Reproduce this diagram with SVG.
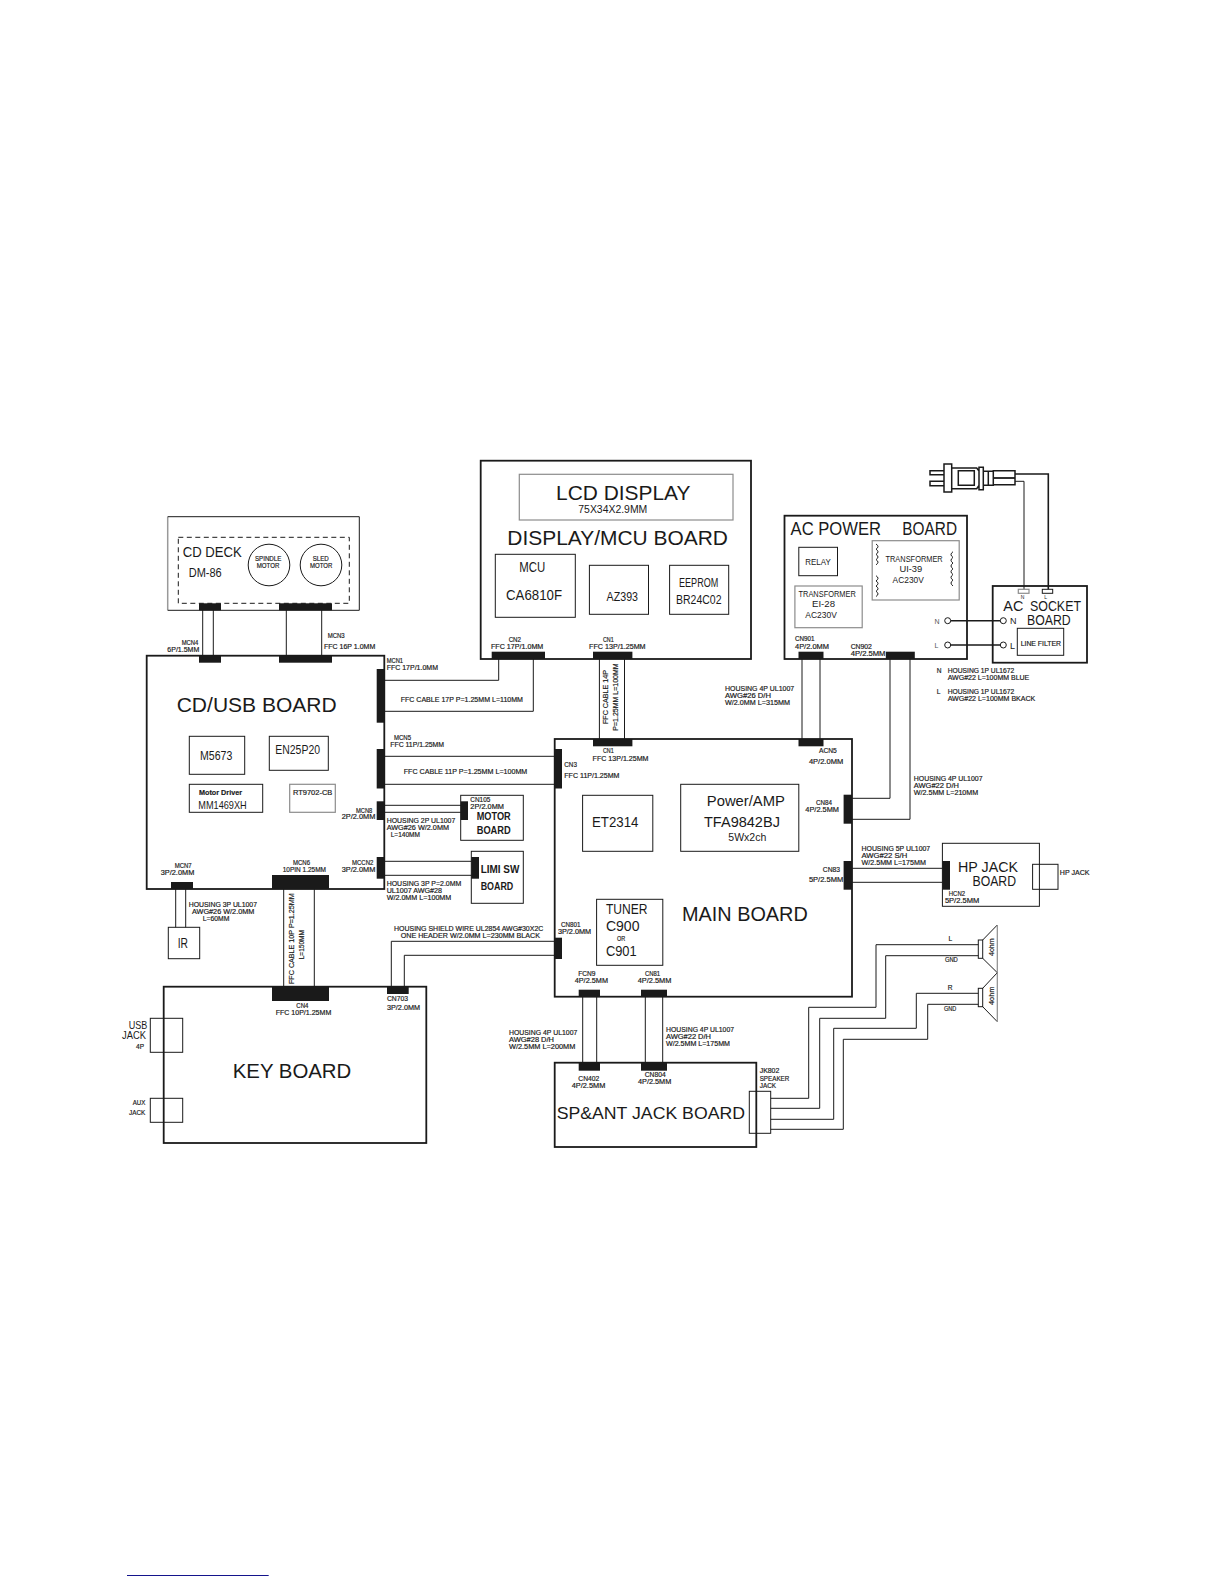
<svg xmlns="http://www.w3.org/2000/svg" width="1224" height="1584" viewBox="0 0 1224 1584">
<style>
text{font-family:"Liberation Sans",Arial,sans-serif;fill:#1a1a1a}
.s{font-size:6.6px;stroke:#1a1a1a;stroke-width:.18}
.m{font-size:9px}
.t{font-size:12px}
.h{font-size:14.5px}
.b{font-size:21px}
.bd{font-weight:bold}
.board,.box,.gbox,.wire{fill:none}
.board{stroke:#1a1a1a;stroke-width:1.8}
.box{stroke:#1a1a1a;stroke-width:1}
.gbox{stroke:#8c8c8c;stroke-width:1.2}
.wire{stroke:#1a1a1a;stroke-width:1}
.wire2{fill:none;stroke:#1a1a1a;stroke-width:1.6}
.c{fill:#1a1a1a;stroke:none}
</style>
<rect width="1224" height="1584" fill="#fff"/>
<g id="connectors">
<path class="wire" d="M202.7 610V656M213.3 610V656M286.3 610V656M321.7 610V656"/>
<path class="wire" d="M384 680.3H498.7V652M384 711.3H533.3V652"/>
<path class="wire" d="M599.4 659V739M624.5 659V739"/>
<path class="wire" d="M802 659V739M820 659V739"/>
<path class="wire" d="M890 659V798.3H852M910 659V819.3H852"/>
<path class="wire" d="M384 756.3H555M384 784.3H555"/>
<path class="wire" d="M384 805.3H461M384 812.3H461"/>
<path class="wire" d="M384 861.3H471.5M384 875.3H471.5"/>
<path class="wire" d="M175.7 889V927.3M185.7 889V927.3"/>
<path class="wire" d="M283.7 889V987M314.3 889V987"/>
<path class="wire" d="M554.7 941.3H391.3V987M554.7 955.3H404.3V987"/>
<path class="wire" d="M852 868.3H942.4M852 882.3H942.4"/>
<path class="wire" d="M582.7 997V1062.7M596.7 997V1062.7M645.3 997V1062.7M662.7 997V1062.7"/>
<path class="wire" d="M770.7 1098.3H808.7V1007.3H876V944.7H978.3M770.7 1108.3H819.7V1018.3H885.7V955.7H978.3M770.7 1119.3H833.7V1028.3H916.3V993.3H978.3M770.7 1129.3H843.3V1039.3H927.7V1004.3H978.3"/>
<path class="wire" d="M1015 481.3H1024V589.3"/>
<path class="wire2" d="M1015 474H1048.3V589.3"/>
<path class="wire2" d="M950.7 620.7H1000.3M950.7 645H1000.3"/>
</g>
<g id="cd-deck">
<path d="M167.7 610.3V516.7" fill="none" stroke="#999" stroke-width="1.5"/>
<path class="box" stroke-width="1.2" d="M167.7 516.7H359.3V610.3H167.7"/>
<rect class="box" x="178.3" y="537.3" width="171" height="66" stroke-dasharray="5 3.5"/>
<circle class="box" cx="269" cy="565" r="20.8"/>
<circle class="box" cx="321" cy="565" r="20.8"/>
<rect class="c" x="199" y="603.3" width="22" height="7"/>
<rect class="c" x="279" y="603.3" width="53" height="7"/>
<text class="h" lengthAdjust="spacingAndGlyphs" x="182.7" y="557.3" textLength="59">CD DECK</text>
<text class="t" lengthAdjust="spacingAndGlyphs" x="188.7" y="576.7" textLength="33">DM-86</text>
<text class="s" lengthAdjust="spacingAndGlyphs" x="255" y="561" textLength="26.3">SPINDLE</text>
<text class="s" lengthAdjust="spacingAndGlyphs" x="256.7" y="568" textLength="22.6">MOTOR</text>
<text class="s" lengthAdjust="spacingAndGlyphs" x="312.7" y="561" textLength="16">SLED</text>
<text class="s" lengthAdjust="spacingAndGlyphs" x="310" y="568" textLength="22.3">MOTOR</text>
</g>
<g id="cd-usb-board">
<rect class="board" x="146.7" y="655.7" width="237.6" height="233.3"/>
<rect class="c" x="199" y="655.7" width="22" height="7"/>
<rect class="c" x="279" y="655.7" width="53" height="7"/>
<rect class="c" x="376.7" y="669" width="8" height="53.7"/>
<rect class="c" x="376.7" y="749" width="8" height="39.5"/>
<rect class="c" x="376.7" y="801.3" width="8" height="18.7"/>
<rect class="c" x="376.7" y="857" width="8" height="21.7"/>
<rect class="c" x="171" y="882" width="22" height="7"/>
<rect class="c" x="272" y="875" width="57" height="14"/>
<rect class="box" x="189.3" y="736.3" width="55.4" height="38"/>
<rect class="box" x="269.3" y="736.3" width="59" height="34"/>
<rect class="box" x="189.3" y="784.3" width="73.4" height="28"/>
<rect class="gbox" x="289.7" y="784.3" width="45.6" height="28"/>
<text class="b" lengthAdjust="spacingAndGlyphs" x="176.7" y="712.3" textLength="160">CD/USB BOARD</text>
<text class="t" lengthAdjust="spacingAndGlyphs" x="200" y="760" textLength="32.3">M5673</text>
<text class="t" lengthAdjust="spacingAndGlyphs" x="275.3" y="753.7" textLength="44.7">EN25P20</text>
<text class="s bd" lengthAdjust="spacingAndGlyphs" x="199" y="795" textLength="43" style="font-size:7.5px">Motor Driver</text>
<text class="t" lengthAdjust="spacingAndGlyphs" x="198.3" y="809" textLength="48.4" style="font-size:11px">MM1469XH</text>
<text class="s" lengthAdjust="spacingAndGlyphs" x="293" y="795" textLength="39.3">RT9702-CB</text>
</g>
<g id="connector-labels-left">
<text class="s" lengthAdjust="spacingAndGlyphs" x="181.7" y="645.3" textLength="16.6">MCN4</text>
<text class="s" lengthAdjust="spacingAndGlyphs" x="167.3" y="652.3" textLength="32">6P/1.5MM</text>
<text class="s" lengthAdjust="spacingAndGlyphs" x="327.7" y="638.3" textLength="17">MCN3</text>
<text class="s" lengthAdjust="spacingAndGlyphs" x="324" y="649" textLength="51.3">FFC 16P 1.0MM</text>
<text class="s" lengthAdjust="spacingAndGlyphs" x="386.7" y="663" textLength="16.3">MCN1</text>
<text class="s" lengthAdjust="spacingAndGlyphs" x="386.7" y="670" textLength="51.3">FFC 17P/1.0MM</text>
<text class="s" lengthAdjust="spacingAndGlyphs" x="400.7" y="701.7" textLength="122.3">FFC CABLE 17P P=1.25MM L=110MM</text>
<text class="s" lengthAdjust="spacingAndGlyphs" x="394" y="739.7" textLength="17">MCN5</text>
<text class="s" lengthAdjust="spacingAndGlyphs" x="390.3" y="746.7" textLength="53.7">FFC 11P/1.25MM</text>
<text class="s" lengthAdjust="spacingAndGlyphs" x="403.7" y="774" textLength="123.6">FFC CABLE 11P P=1.25MM L=100MM</text>
<text class="s" lengthAdjust="spacingAndGlyphs" x="356" y="812.7" textLength="16.3">MCN8</text>
<text class="s" lengthAdjust="spacingAndGlyphs" x="341.7" y="819.3" textLength="33.6">2P/2.0MM</text>
<text class="s" lengthAdjust="spacingAndGlyphs" x="386.7" y="822.7" textLength="68.6">HOUSING 2P UL1007</text>
<text class="s" lengthAdjust="spacingAndGlyphs" x="386.7" y="829.7" textLength="62.3">AWG#26 W/2.0MM</text>
<text class="s" lengthAdjust="spacingAndGlyphs" x="390.7" y="836.7" textLength="29.3">L=140MM</text>
<text class="s" lengthAdjust="spacingAndGlyphs" x="352" y="865" textLength="21.3">MCCN2</text>
<text class="s" lengthAdjust="spacingAndGlyphs" x="341.7" y="872" textLength="33.6">3P/2.0MM</text>
<text class="s" lengthAdjust="spacingAndGlyphs" x="386.7" y="886" textLength="74.6">HOUSING 3P P=2.0MM</text>
<text class="s" lengthAdjust="spacingAndGlyphs" x="386.7" y="893" textLength="55.3">UL1007 AWG#28</text>
<text class="s" lengthAdjust="spacingAndGlyphs" x="386.7" y="900" textLength="64.6">W/2.0MM L=100MM</text>
<text class="s" lengthAdjust="spacingAndGlyphs" x="174.7" y="868" textLength="17">MCN7</text>
<text class="s" lengthAdjust="spacingAndGlyphs" x="160.7" y="875" textLength="33.6">3P/2.0MM</text>
<text class="s" lengthAdjust="spacingAndGlyphs" x="293" y="865" textLength="17">MCN6</text>
<text class="s" lengthAdjust="spacingAndGlyphs" x="282.7" y="872" textLength="43.3">10PIN 1.25MM</text>
<text class="s" lengthAdjust="spacingAndGlyphs" x="188.7" y="907" textLength="68.3">HOUSING 3P UL1007</text>
<text class="s" lengthAdjust="spacingAndGlyphs" x="192" y="914" textLength="62.3">AWG#26 W/2.0MM</text>
<text class="s" lengthAdjust="spacingAndGlyphs" x="202.7" y="920.7" textLength="26.6">L=60MM</text>
<text class="s" lengthAdjust="spacingAndGlyphs" transform="translate(293.7 984) rotate(-90)" textLength="90.7">FFC CABLE 10P P=1.25MM</text>
<text class="s" lengthAdjust="spacingAndGlyphs" transform="translate(304.3 959.3) rotate(-90)" textLength="29.3">L=150MM</text>
<text class="s" lengthAdjust="spacingAndGlyphs" x="394" y="931" textLength="149.3">HOUSING SHIELD WIRE UL2854 AWG#30X2C</text>
<text class="s" lengthAdjust="spacingAndGlyphs" x="400.7" y="938" textLength="139.3">ONE HEADER W/2.0MM L=230MM BLACK</text>
</g>
<g id="ir-board">
<rect class="box" x="168.3" y="927.3" width="31.4" height="31.4"/>
<text class="h" lengthAdjust="spacingAndGlyphs" x="177.7" y="948.3" textLength="10.3">IR</text>
</g>
<g id="motor-board">
<rect class="box" x="460.7" y="795.3" width="62.6" height="45"/>
<rect class="c" x="460.7" y="801.3" width="7.3" height="18.7"/>
<text class="s" lengthAdjust="spacingAndGlyphs" x="470.3" y="802" textLength="20">CN105</text>
<text class="s" lengthAdjust="spacingAndGlyphs" x="470.3" y="809" textLength="33.7">2P/2.0MM</text>
<text class="t bd" lengthAdjust="spacingAndGlyphs" x="476.7" y="820" textLength="34" style="font-size:11px">MOTOR</text>
<text class="t bd" lengthAdjust="spacingAndGlyphs" x="476.7" y="834" textLength="34" style="font-size:11px">BOARD</text>
</g>
<g id="limit-switch-board">
<rect class="box" x="471.3" y="851.3" width="52" height="52"/>
<rect class="c" x="471.3" y="857" width="7.7" height="21.7"/>
<text class="t bd" lengthAdjust="spacingAndGlyphs" x="480.7" y="872.7" textLength="38.6" style="font-size:11px">LIMI SW</text>
<text class="t bd" lengthAdjust="spacingAndGlyphs" x="480.7" y="890" textLength="32.6" style="font-size:11px">BOARD</text>
</g>
<g id="display-mcu-board">
<rect class="board" x="480.7" y="460.7" width="270.3" height="198.3"/>
<rect class="gbox" x="519.3" y="474.3" width="213.7" height="45.7"/>
<rect class="box" x="495.3" y="554.3" width="80" height="63"/>
<rect class="box" x="589.4" y="565.3" width="59.1" height="49"/>
<rect class="box" x="669.6" y="565.3" width="59.1" height="49"/>
<rect class="c" x="491.7" y="651.7" width="53.3" height="7.3"/>
<rect class="c" x="593" y="651.7" width="39.4" height="7.3"/>
<text class="b" lengthAdjust="spacingAndGlyphs" x="556" y="500" textLength="134.4">LCD DISPLAY</text>
<text class="t" lengthAdjust="spacingAndGlyphs" x="578.3" y="513.3" textLength="69" style="font-size:11px">75X34X2.9MM</text>
<text class="b" lengthAdjust="spacingAndGlyphs" x="507.3" y="545" textLength="220.7">DISPLAY/MCU BOARD</text>
<text class="h" lengthAdjust="spacingAndGlyphs" x="519.3" y="571.7" textLength="26" style="font-size:15px">MCU</text>
<text class="h" lengthAdjust="spacingAndGlyphs" x="506" y="600" textLength="56" style="font-size:15px">CA6810F</text>
<text class="t" lengthAdjust="spacingAndGlyphs" x="606.6" y="600.7" textLength="31.4">AZ393</text>
<text class="t" lengthAdjust="spacingAndGlyphs" x="679" y="587" textLength="39.3">EEPROM</text>
<text class="t" lengthAdjust="spacingAndGlyphs" x="676" y="604.3" textLength="45.5">BR24C02</text>
<text class="s" lengthAdjust="spacingAndGlyphs" x="508.7" y="642" textLength="12.3">CN2</text>
<text class="s" lengthAdjust="spacingAndGlyphs" x="491" y="649" textLength="52.3">FFC 17P/1.0MM</text>
<text class="s" lengthAdjust="spacingAndGlyphs" x="603" y="642" textLength="10.7">CN1</text>
<text class="s" lengthAdjust="spacingAndGlyphs" x="589" y="649" textLength="56.6">FFC 13P/1.25MM</text>
<text class="s" lengthAdjust="spacingAndGlyphs" transform="translate(607.7 724) rotate(-90)" textLength="54">FFC CABLE 14P</text>
<text class="s" lengthAdjust="spacingAndGlyphs" transform="translate(617.7 730.7) rotate(-90)" textLength="67.4">P=1.25MM L=100MM</text>
</g>
<g id="main-board">
<rect class="board" x="554.7" y="739" width="297.3" height="257.7"/>
<rect class="c" x="593" y="739" width="39.4" height="7.3"/>
<rect class="c" x="798.5" y="739" width="25" height="7.3"/>
<rect class="c" x="554.7" y="749" width="7.3" height="39.5"/>
<rect class="c" x="843.6" y="794.7" width="8.4" height="29"/>
<rect class="c" x="843.6" y="861" width="8.4" height="28.7"/>
<rect class="c" x="554.7" y="937.7" width="7.3" height="21.3"/>
<rect class="c" x="578.7" y="989.7" width="21.3" height="7.3"/>
<rect class="c" x="641" y="989.7" width="26" height="7.3"/>
<rect class="box" x="582.6" y="795.3" width="70.2" height="56"/>
<rect class="box" x="680.7" y="784.3" width="118.1" height="67"/>
<rect class="box" x="596.6" y="899.3" width="66.2" height="66"/>
<text class="s" lengthAdjust="spacingAndGlyphs" x="603" y="753.3" textLength="10.7">CN1</text>
<text class="s" lengthAdjust="spacingAndGlyphs" x="592.6" y="760.7" textLength="55.9">FFC 13P/1.25MM</text>
<text class="s" lengthAdjust="spacingAndGlyphs" x="819" y="753.3" textLength="17.8">ACN5</text>
<text class="s" lengthAdjust="spacingAndGlyphs" x="808.9" y="763.7" textLength="34.3">4P/2.0MM</text>
<text class="s" lengthAdjust="spacingAndGlyphs" x="564.3" y="767.3" textLength="12.6">CN3</text>
<text class="s" lengthAdjust="spacingAndGlyphs" x="564.3" y="778" textLength="55.2">FFC 11P/1.25MM</text>
<text class="h" lengthAdjust="spacingAndGlyphs" x="592" y="826.7" textLength="46.5" style="font-size:14px">ET2314</text>
<text class="h" lengthAdjust="spacingAndGlyphs" x="706.8" y="806" textLength="78.1">Power/AMP</text>
<text class="h" lengthAdjust="spacingAndGlyphs" x="704" y="826.7" textLength="75.9">TFA9842BJ</text>
<text class="t" lengthAdjust="spacingAndGlyphs" x="728.3" y="840.7" textLength="38" style="font-size:10.5px">5Wx2ch</text>
<text class="s" lengthAdjust="spacingAndGlyphs" x="816" y="805.3" textLength="16">CN84</text>
<text class="s" lengthAdjust="spacingAndGlyphs" x="805.3" y="812.3" textLength="33.7">4P/2.5MM</text>
<text class="s" lengthAdjust="spacingAndGlyphs" x="822.8" y="871.7" textLength="17.2">CN83</text>
<text class="s" lengthAdjust="spacingAndGlyphs" x="808.9" y="882.3" textLength="34.3">5P/2.5MM</text>
<text class="h" lengthAdjust="spacingAndGlyphs" x="605.9" y="914" textLength="41.5">TUNER</text>
<text class="h" lengthAdjust="spacingAndGlyphs" x="605.9" y="931.3" textLength="33.6">C900</text>
<text class="s" lengthAdjust="spacingAndGlyphs" x="617" y="941.3" textLength="8.2">OR</text>
<text class="h" lengthAdjust="spacingAndGlyphs" x="605.9" y="955.7" textLength="30.8">C901</text>
<text class="b" lengthAdjust="spacingAndGlyphs" x="682" y="921" textLength="125.8">MAIN BOARD</text>
<text class="s" lengthAdjust="spacingAndGlyphs" x="561" y="927" textLength="19.5">CN801</text>
<text class="s" lengthAdjust="spacingAndGlyphs" x="557.9" y="934.3" textLength="33.3">3P/2.0MM</text>
<text class="s" lengthAdjust="spacingAndGlyphs" x="578.3" y="976" textLength="17.2">FCN9</text>
<text class="s" lengthAdjust="spacingAndGlyphs" x="574.7" y="983" textLength="33.3">4P/2.5MM</text>
<text class="s" lengthAdjust="spacingAndGlyphs" x="644.9" y="976" textLength="15.1">CN81</text>
<text class="s" lengthAdjust="spacingAndGlyphs" x="637.7" y="983" textLength="33.7">4P/2.5MM</text>
</g>
<g id="ac-power-board">
<rect class="board" x="784.5" y="515.7" width="182.5" height="143.3"/>
<rect class="box" x="798.8" y="547.3" width="38.7" height="28.4"/>
<rect class="gbox" x="872.2" y="540.7" width="87" height="59.3"/>
<rect class="gbox" x="794.9" y="586" width="67.3" height="41.7"/>
<path class="box" d="M876 544q4 2.6 0 5.2q4 2.6 0 5.2q4 2.6 0 5.2q4 2.600 0 5.200M876 575.700q4 2.600 0 5.200q4 2.600 0 5.200q4 2.600 0 5.200q4 2.600 0 5.200M953 551.700q-4 2.900 0 5.700q-4 2.900 0 5.700q-4 2.900 0 5.700q-4 2.900 0 5.700q-4 2.900 0 5.700q-4 2.900 0 5.700"/>
<circle class="box" cx="947.7" cy="620.7" r="3"/>
<circle class="box" cx="947.7" cy="645" r="3"/>
<rect class="c" x="798.5" y="651.7" width="25" height="7.3"/>
<rect class="c" x="885.8" y="651.7" width="29" height="7.3"/>
<text class="b" lengthAdjust="spacingAndGlyphs" x="790.6" y="535" textLength="90.4" style="font-size:19px">AC POWER</text>
<text class="b" lengthAdjust="spacingAndGlyphs" x="902.3" y="535" textLength="54.7" style="font-size:19px">BOARD</text>
<text class="m" lengthAdjust="spacingAndGlyphs" x="805.3" y="565.3" textLength="25.4">RELAY</text>
<text class="m" lengthAdjust="spacingAndGlyphs" x="885.5" y="561.7" textLength="57.2">TRANSFORMER</text>
<text class="m" lengthAdjust="spacingAndGlyphs" x="899.4" y="572.3" textLength="22.9">UI-39</text>
<text class="m" lengthAdjust="spacingAndGlyphs" x="892.6" y="583" textLength="31.2">AC230V</text>
<text class="m" lengthAdjust="spacingAndGlyphs" x="798.5" y="596.7" textLength="57.3">TRANSFORMER</text>
<text class="m" lengthAdjust="spacingAndGlyphs" x="812" y="607.3" textLength="23">EI-28</text>
<text class="m" lengthAdjust="spacingAndGlyphs" x="805.3" y="617.7" textLength="31.5">AC230V</text>
<text class="m" x="934.5" y="624" style="font-size:7px;fill:#555">N</text>
<text class="m" x="934.5" y="648.3" style="font-size:7px;fill:#555">L</text>
<text class="s" lengthAdjust="spacingAndGlyphs" x="795" y="640.7" textLength="19.6">CN901</text>
<text class="s" lengthAdjust="spacingAndGlyphs" x="795" y="648.7" textLength="34">4P/2.0MM</text>
<text class="s" lengthAdjust="spacingAndGlyphs" x="850.7" y="648.7" textLength="21.2">CN902</text>
<text class="s" lengthAdjust="spacingAndGlyphs" x="850.7" y="655.7" textLength="34.8">4P/2.5MM</text>
</g>
<g id="ac-cable-labels">
<text class="s" lengthAdjust="spacingAndGlyphs" x="725" y="690.7" textLength="69.2">HOUSING 4P UL1007</text>
<text class="s" lengthAdjust="spacingAndGlyphs" x="725" y="697.7" textLength="46">AWG#26 D/H</text>
<text class="s" lengthAdjust="spacingAndGlyphs" x="725" y="705" textLength="65">W/2.0MM L=315MM</text>
<text class="s" lengthAdjust="spacingAndGlyphs" x="913.8" y="781" textLength="68.7">HOUSING 4P UL1007</text>
<text class="s" lengthAdjust="spacingAndGlyphs" x="913.8" y="788" textLength="45.1">AWG#22 D/H</text>
<text class="s" lengthAdjust="spacingAndGlyphs" x="913.8" y="795" textLength="64.4">W/2.5MM L=210MM</text>
<text class="s" lengthAdjust="spacingAndGlyphs" x="861.5" y="850.7" textLength="68.7">HOUSING 5P UL1007</text>
<text class="s" lengthAdjust="spacingAndGlyphs" x="861.5" y="857.7" textLength="45.8">AWG#22 S/H</text>
<text class="s" lengthAdjust="spacingAndGlyphs" x="861.5" y="864.7" textLength="64.4">W/2.5MM L=175MM</text>
<text class="s" x="936.7" y="673.3">N</text>
<text class="s" lengthAdjust="spacingAndGlyphs" x="947.7" y="673.3" textLength="66.6">HOUSING 1P UL1672</text>
<text class="s" lengthAdjust="spacingAndGlyphs" x="947.7" y="680.3" textLength="81.6">AWG#22 L=100MM BLUE</text>
<text class="s" x="936.7" y="694.3">L</text>
<text class="s" lengthAdjust="spacingAndGlyphs" x="947.7" y="694.3" textLength="66.6">HOUSING 1P UL1672</text>
<text class="s" lengthAdjust="spacingAndGlyphs" x="947.7" y="701" textLength="87.6">AWG#22 L=100MM BKACK</text>
</g>
<g id="ac-plug">
<path fill="#fff" stroke="#1a1a1a" stroke-width="1.5" d="M944 470.7H930V474.7H944M944 481.3H930V485.7H944M944 464H951.700V492H944ZM951.7 468H976.700L979 471V485.500L976.700 488.700H951.700ZM958.300 470.700H974.300V485.300H958.300ZM979 467.300H983.300V489.700H979ZM983.300 471.300H993.300V485.300H983.300ZM988.300 471.300V485.300M993.300 470.700H1015V484.700H993.300Z"/>
<path fill="none" stroke="#1a1a1a" stroke-width="1.800" d="M993.300 478H1015"/>
</g>
<g id="ac-socket-board">
<rect class="board" x="992.7" y="586" width="94.3" height="76.7"/>
<rect class="gbox" x="1018.3" y="589.3" width="10.7" height="4"/>
<rect class="box" x="1042.3" y="589.3" width="10.4" height="4"/>
<circle class="box" cx="1003.3" cy="620.7" r="3"/>
<circle class="box" cx="1003.3" cy="645" r="3"/>
<rect class="box" x="1017.3" y="628.3" width="46.4" height="27"/>
<text class="m" x="1020.7" y="599" style="font-size:5px">N</text>
<text class="m" x="1044.3" y="599" style="font-size:5px">L</text>
<text class="h" lengthAdjust="spacingAndGlyphs" x="1003.3" y="611" textLength="20" style="font-size:15px">AC</text>
<text class="h" lengthAdjust="spacingAndGlyphs" x="1030" y="611" textLength="51" style="font-size:15px">SOCKET</text>
<text class="h" lengthAdjust="spacingAndGlyphs" x="1027" y="625" textLength="43.7" style="font-size:15px">BOARD</text>
<text class="m" x="1010" y="624">N</text>
<text class="m" x="1010" y="649">L</text>
<text class="s" lengthAdjust="spacingAndGlyphs" x="1020.7" y="645.7" textLength="40.3">LINE FILTER</text>
</g>
<g id="hp-jack-board">
<rect class="box" x="942.4" y="843.3" width="97" height="63"/>
<rect class="box" x="1032.6" y="864.3" width="25.4" height="25"/>
<rect class="c" x="942.4" y="861" width="7.6" height="28.7"/>
<text class="h" lengthAdjust="spacingAndGlyphs" x="958" y="872" textLength="60">HP JACK</text>
<text class="h" lengthAdjust="spacingAndGlyphs" x="972.5" y="886" textLength="43.5">BOARD</text>
<text class="s" lengthAdjust="spacingAndGlyphs" x="948.8" y="896" textLength="16.2">HCN2</text>
<text class="s" lengthAdjust="spacingAndGlyphs" x="944.9" y="903" textLength="34.4">5P/2.5MM</text>
<text class="s" lengthAdjust="spacingAndGlyphs" x="1059.8" y="875" textLength="29.7">HP JACK</text>
</g>
<g id="key-board">
<rect class="board" x="163.7" y="986.7" width="262.6" height="156.3"/>
<rect class="c" x="272" y="986.7" width="57" height="14.3"/>
<rect class="c" x="387" y="986.7" width="21.7" height="7.3"/>
<rect class="box" x="150.3" y="1018.3" width="32.4" height="34"/>
<rect class="box" x="150.3" y="1098.3" width="32.4" height="24"/>
<text class="s" lengthAdjust="spacingAndGlyphs" x="296.3" y="1007.7" textLength="12">CN4</text>
<text class="s" lengthAdjust="spacingAndGlyphs" x="275.7" y="1014.7" textLength="55.6">FFC 10P/1.25MM</text>
<text class="s" lengthAdjust="spacingAndGlyphs" x="387" y="1000.7" textLength="21">CN703</text>
<text class="s" lengthAdjust="spacingAndGlyphs" x="387" y="1010" textLength="33">3P/2.0MM</text>
<text class="b" lengthAdjust="spacingAndGlyphs" x="232.7" y="1077.7" textLength="118.6">KEY BOARD</text>
<text class="t" lengthAdjust="spacingAndGlyphs" x="128.7" y="1028.7" textLength="18.6" style="font-size:11px">USB</text>
<text class="t" lengthAdjust="spacingAndGlyphs" x="122" y="1039" textLength="24" style="font-size:11px">JACK</text>
<text class="s" lengthAdjust="spacingAndGlyphs" x="136" y="1049.3" textLength="8">4P</text>
<text class="s" lengthAdjust="spacingAndGlyphs" x="132.7" y="1105" textLength="12.6">AUX</text>
<text class="s" lengthAdjust="spacingAndGlyphs" x="129" y="1115.3" textLength="16.3">JACK</text>
</g>
<g id="sp-ant-jack-board">
<rect class="board" x="554.7" y="1062.7" width="201.6" height="84.3"/>
<rect class="c" x="578.7" y="1062.7" width="21.3" height="8"/>
<rect class="c" x="641" y="1062.7" width="26" height="8"/>
<rect class="box" x="749.3" y="1091.3" width="21.4" height="42"/>
<text class="s" lengthAdjust="spacingAndGlyphs" x="509" y="1035.3" textLength="68.3">HOUSING 4P UL1007</text>
<text class="s" lengthAdjust="spacingAndGlyphs" x="509" y="1042.3" textLength="45">AWG#28 D/H</text>
<text class="s" lengthAdjust="spacingAndGlyphs" x="509" y="1049.3" textLength="66.3">W/2.5MM L=200MM</text>
<text class="s" lengthAdjust="spacingAndGlyphs" x="666" y="1031.7" textLength="68">HOUSING 4P UL1007</text>
<text class="s" lengthAdjust="spacingAndGlyphs" x="666" y="1038.7" textLength="45">AWG#22 D/H</text>
<text class="s" lengthAdjust="spacingAndGlyphs" x="666" y="1045.7" textLength="64">W/2.5MM L=175MM</text>
<text class="s" lengthAdjust="spacingAndGlyphs" x="578.3" y="1080.7" textLength="21">CN402</text>
<text class="s" lengthAdjust="spacingAndGlyphs" x="571.7" y="1087.7" textLength="33.6">4P/2.5MM</text>
<text class="s" lengthAdjust="spacingAndGlyphs" x="644.7" y="1077.3" textLength="21">CN804</text>
<text class="s" lengthAdjust="spacingAndGlyphs" x="638" y="1084.3" textLength="33.3">4P/2.5MM</text>
<text class="s" lengthAdjust="spacingAndGlyphs" x="759.7" y="1073.3" textLength="19.6">JK802</text>
<text class="s" lengthAdjust="spacingAndGlyphs" x="759.7" y="1080.7" textLength="29.6">SPEAKER</text>
<text class="s" lengthAdjust="spacingAndGlyphs" x="759.7" y="1087.7" textLength="16.3">JACK</text>
<text class="h" lengthAdjust="spacingAndGlyphs" x="556.7" y="1119.3" textLength="188.3" style="font-size:17px">SP&amp;ANT JACK BOARD</text>
</g>
<g id="speaker-l">
<rect class="box" x="978.3" y="940" width="4.4" height="18.3"/>
<path class="box" d="M982.7 940L997.3 925"/>
<path class="box" d="M982.7 958.3L997.3 972.7"/>
<path class="gbox" stroke-width="2" d="M997.3 925V972.7"/>
<text class="s" x="948.5" y="941.3">L</text>
<text class="s" lengthAdjust="spacingAndGlyphs" x="944.9" y="962" textLength="12.9">GND</text>
<text class="s" lengthAdjust="spacingAndGlyphs" transform="translate(994 956) rotate(-90)" textLength="17.7">4ohm</text>
</g>
<g id="speaker-r">
<rect class="box" x="978.3" y="988.3" width="4.4" height="18.4"/>
<path class="box" d="M982.7 988.3L997.3 972.7"/>
<path class="box" d="M982.7 1006.7L997.3 1021.7"/>
<path class="gbox" stroke-width="2" d="M997.3 972.7V1021.7"/>
<text class="s" x="947.7" y="990">R</text>
<text class="s" lengthAdjust="spacingAndGlyphs" x="944" y="1010.7" textLength="12.3">GND</text>
<text class="s" lengthAdjust="spacingAndGlyphs" transform="translate(994 1005) rotate(-90)" textLength="18.3">4ohm</text>
</g>
<path d="M127 1575.500H268.700" stroke="#14148c" stroke-width="1" fill="none"/>
</svg>
